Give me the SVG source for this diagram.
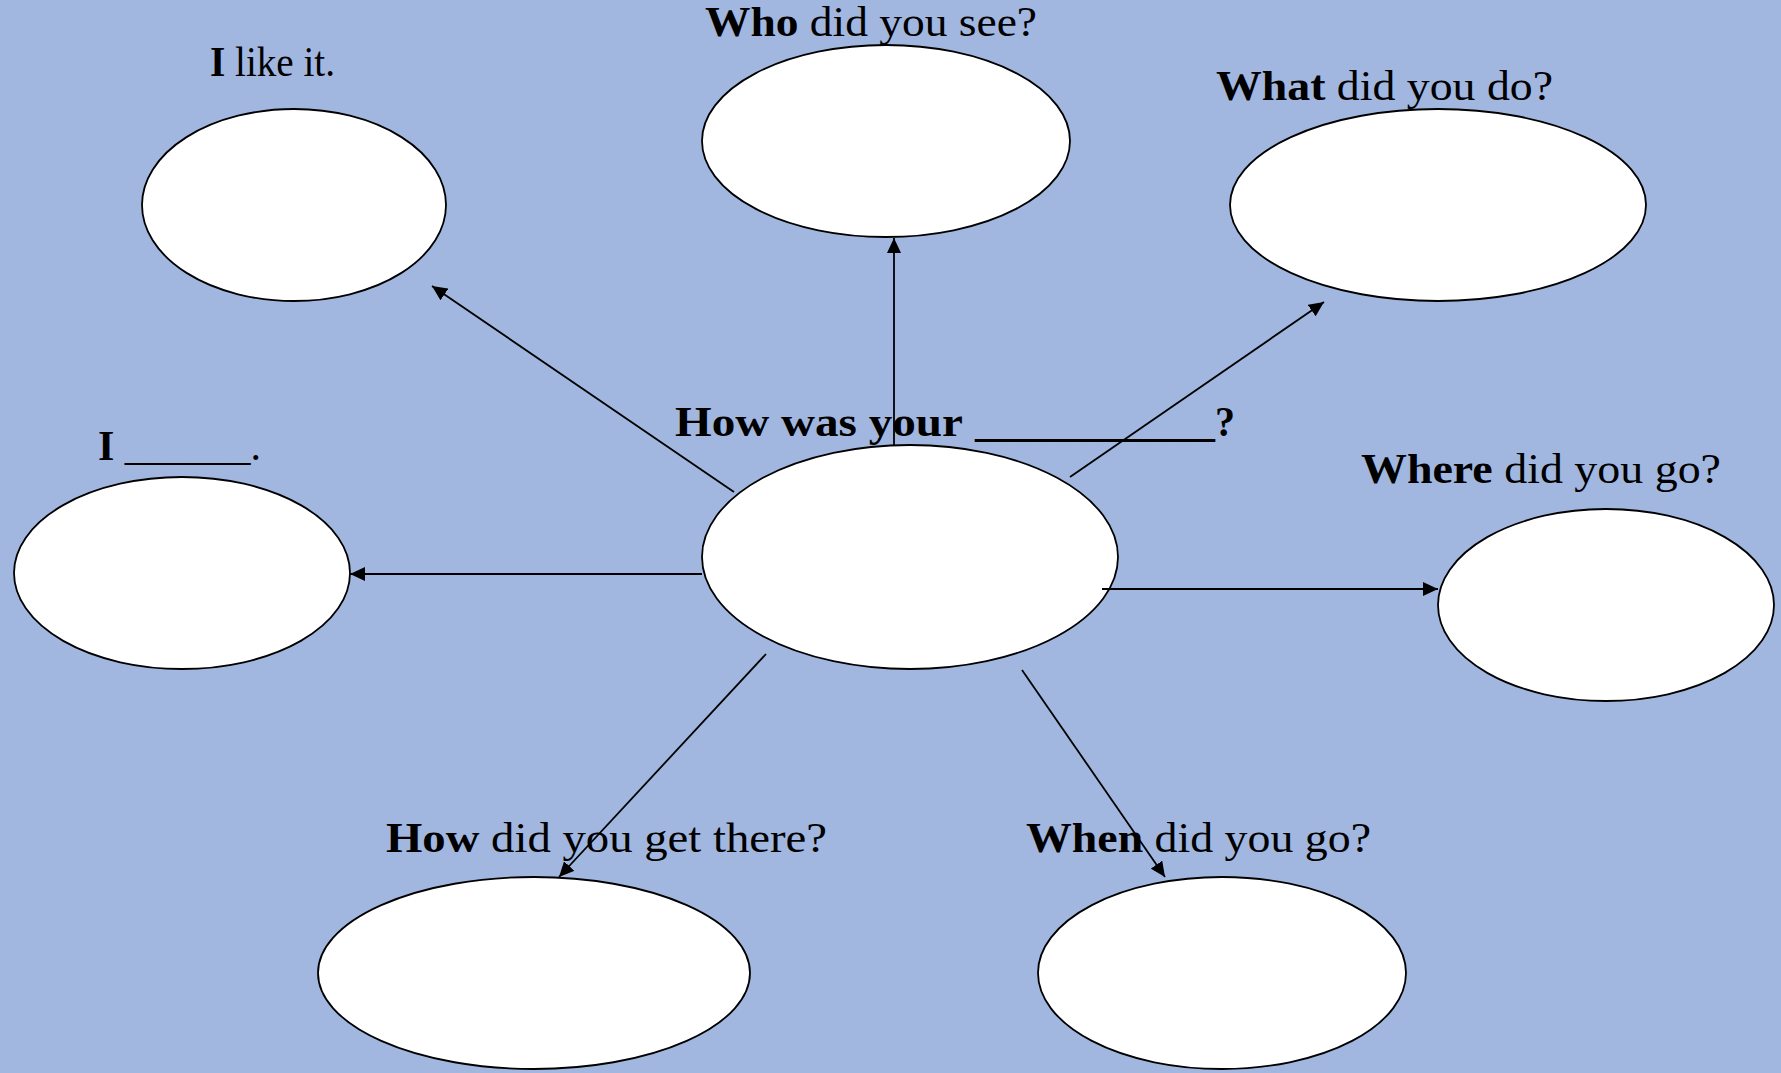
<svg xmlns="http://www.w3.org/2000/svg" width="1781" height="1073" viewBox="0 0 1781 1073">
<defs>
<marker id="ah" markerWidth="16" markerHeight="14" refX="15" refY="7" orient="auto" markerUnits="userSpaceOnUse">
<path d="M0,0 L15,7 L0,14 z" fill="#000"/>
</marker>
<style>
.n{fill:#fff;stroke:#000;stroke-width:1.8}
.c line{stroke:#000;stroke-width:1.8;marker-end:url(#ah)}
text{font-family:"Liberation Serif","Times New Roman",serif;font-size:42px;fill:#000}
.b{font-weight:bold}
</style>
</defs>
<rect width="1781" height="1073" fill="#A1B7E0"/>
<g id="center">
<ellipse class="n" cx="910" cy="557" rx="208" ry="112"/>
<text y="436" class="b"><tspan x="675" textLength="288" lengthAdjust="spacingAndGlyphs">How was your</tspan><tspan x="975" textLength="260" lengthAdjust="spacingAndGlyphs">____________?</tspan></text>
</g>
<g id="like">
<ellipse class="n" cx="294" cy="205" rx="152" ry="96"/>
<text x="210" y="76" textLength="125" lengthAdjust="spacingAndGlyphs"><tspan class="b">I</tspan> like it.</text>
</g>
<g id="who">
<ellipse class="n" cx="886" cy="141" rx="184" ry="96"/>
<text x="705" y="36" textLength="332" lengthAdjust="spacingAndGlyphs"><tspan class="b">Who</tspan> did you see?</text>
</g>
<g id="what">
<ellipse class="n" cx="1438" cy="205" rx="208" ry="96"/>
<text x="1216" y="100" textLength="337" lengthAdjust="spacingAndGlyphs"><tspan class="b">What</tspan> did you do?</text>
</g>
<g id="i-blank">
<ellipse class="n" cx="182" cy="573" rx="168" ry="96"/>
<text x="98" y="460" textLength="163" lengthAdjust="spacingAndGlyphs"><tspan class="b">I</tspan> ______.</text>
</g>
<g id="where">
<ellipse class="n" cx="1606" cy="605" rx="168" ry="96"/>
<text x="1361" y="483" textLength="360" lengthAdjust="spacingAndGlyphs"><tspan class="b">Where</tspan> did you go?</text>
</g>
<g id="how">
<ellipse class="n" cx="534" cy="973" rx="216" ry="96"/>
<text x="386" y="852" textLength="441" lengthAdjust="spacingAndGlyphs"><tspan class="b">How</tspan> did you get there?</text>
</g>
<g id="when">
<ellipse class="n" cx="1222" cy="973" rx="184" ry="96"/>
<text x="1026" y="852" textLength="345" lengthAdjust="spacingAndGlyphs"><tspan class="b">When</tspan> did you go?</text>
</g>
<g id="connectors" class="c">
<line x1="734" y1="492" x2="432" y2="286"/>
<line x1="894" y1="445" x2="894" y2="238"/>
<line x1="1070" y1="477" x2="1324" y2="302"/>
<line x1="702" y1="574" x2="350" y2="574"/>
<line x1="1102" y1="589" x2="1438" y2="589"/>
<line x1="766" y1="654" x2="559" y2="877"/>
<line x1="1022" y1="670" x2="1165" y2="877"/>
</g>
</svg>
